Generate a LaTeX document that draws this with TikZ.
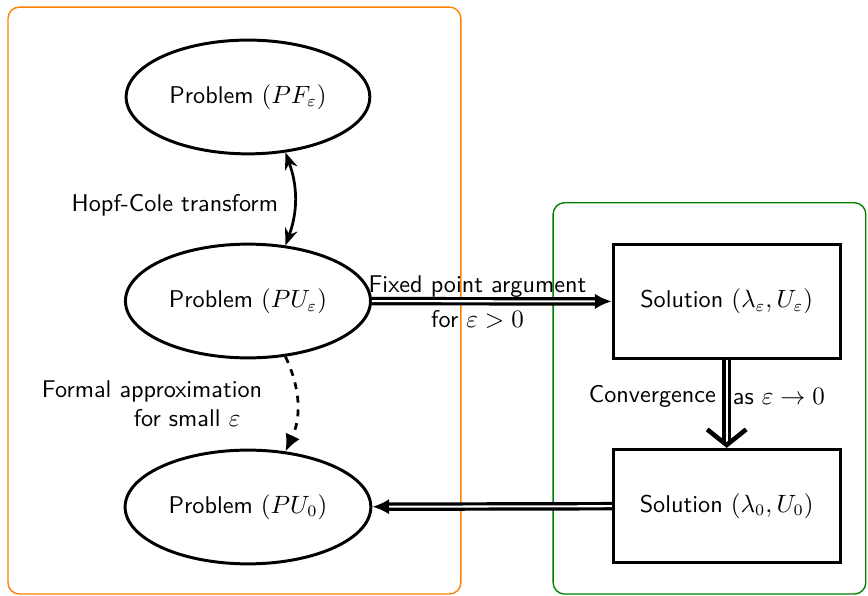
\documentclass[tikz,border=0pt]{standalone}
\usepackage{amsmath,amssymb}
\usepackage{tikz}
\usetikzlibrary{arrows.meta,positioning,shapes.geometric}
\newcommand{\lblfont}{\sffamily\fontsize{10.6}{12.8}\selectfont}
\tikzset{
  prob/.style={ellipse,draw,line width=1.3pt,minimum width=3.65cm,minimum height=1.75cm,font=\lblfont},
  sol/.style={rectangle,draw,line width=1.3pt,minimum width=3.49cm,minimum height=1.74cm,font=\lblfont},
  grp/.style={rounded corners=5pt,semithick},
  dbl/.style={double,double distance=0.9pt,line width=1.4pt,-{Latex[length=2.6mm,width=2.4mm]}},
  conv/.style={double,double distance=0.9pt,line width=1.4pt,-{Straight Barb[length=2.4mm,width=6mm,line width=2pt]}},
  twoway/.style={very thick,{Stealth[length=2.6mm,width=2mm]}-{Stealth[length=2.6mm,width=2mm]}},
  lbl/.style={font=\lblfont},
}

\begin{document}
\begin{tikzpicture}
  \useasboundingbox (0,0) rectangle (13.354,9.169);
  % the two groups
  \draw[grp,orange] (0.123,0.03) rectangle (7.09,9.06);
  \draw[grp,green!50!black] (8.51,0.03) rectangle (13.32,6.05);
  % problems
  \node[prob] (PF) at (3.815,7.677) {Problem $(PF_\varepsilon)$};
  \node[prob] (PUe) at (3.815,4.538) {Problem $(PU_\varepsilon)$};
  \node[prob] (PU0) at (3.815,1.369) {Problem $(PU_0)$};
  % solutions
  \node[sol] (Se) at (11.18,4.53) {Solution $(\lambda_\varepsilon,U_\varepsilon)$};
  \node[sol] (S0) at (11.18,1.385) {Solution $(\lambda_0,U_0)$};
  % arrows
  \draw[twoway] (PF.-56) to[bend left=20] node[lbl,left,xshift=-0.12cm,yshift=-0.1cm] {Hopf-Cole transform} (PUe.56);
  \draw[very thick,dashed,-{Latex[length=2.6mm,width=2.4mm]}] (PUe.-56) to[bend left=25]
    node[lbl,left,align=right,xshift=-0.4cm] {Formal approximation\\ for small $\varepsilon$\hspace*{0.9em}} (PU0.56);
  \draw[dbl] (PUe) -- node[lbl,above,pos=0.44,inner sep=1pt] {Fixed point argument}
    node[lbl,below,pos=0.44] {for $\varepsilon>0$} (Se);
  \draw[conv] (Se) -- node[lbl,left,inner sep=4pt,pos=0.42] {Convergence}
    node[lbl,right,inner sep=2pt,pos=0.42] {as $\varepsilon\to0$} (S0);
  \draw[dbl] (S0) -- (PU0);
\end{tikzpicture}
\end{document}
